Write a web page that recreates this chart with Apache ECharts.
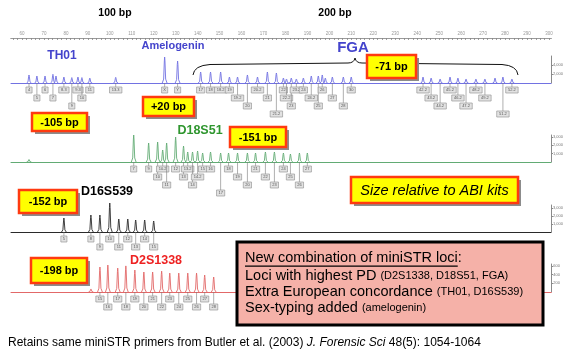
<!DOCTYPE html>
<html><head><meta charset="utf-8">
<script src="https://cdn.jsdelivr.net/npm/echarts@6/dist/echarts.min.js"></script>
<style>html,body{margin:0;padding:0;background:#fff}#c{width:566px;height:357px}</style>
</head><body><div id="c"></div>
<script>
// ---------- DATA ----------
const rulerLabels = [60,70,80,90,100,110,120,130,140,150,160,170,180,190,200,210,220,230,240,250,260,270,280,290,300];

// Blue dye: TH01, Amelogenin, FGA
const blueBp = [63.2,66.8,70.5,74.1,75.5,79.1,82.7,85.5,87.3,90.9,102.7,
  125.0,130.9,
  141.4,145.9,150.5,154.5,158.2,162.7,167.3,171.8,175.9,179.1,180.5,182.7,185.0,188.2,191.8,195.0,196.8,198.2,201.4,206.4,210.0,
  242.7,246.4,250.5,255.0,258.6,262.3,266.8,270.9,275.5,279.1,283.2];
const blueRfu = [1780,1550,1550,1930,1550,1330,1200,1330,1200,1100,1250,
  5770,4880,
  2440,2440,2440,1330,1330,1780,1330,2440,2220,1110,890,1110,890,1110,1550,1550,1780,1110,1330,1330,1330,
  1330,1110,890,1330,1110,890,890,890,1110,1330,890];
const blueAllele = ["4","5","6","7","8","8.3","9","9.3","10","11","13.3",
  "X","Y",
  "17","18","18.2","19","19.2","20","20.2","21","21.2","22","22.2","23","23.2","24","24.2","25","26","26.2","27","28","30",
  "42.2","43.2","44.2","45.2","46.2","47.2","48.2","49.2","50.2","51.2","52.2"];
const blueRow = [0,1,0,1,-1,0,2,0,1,0,0,
  0,0,
  0,0,0,0,1,2,0,1,3,0,1,2,0,0,1,2,0,-1,1,2,0,
  0,1,2,0,1,2,0,1,-1,3,0];

// Green dye: D18S51
const greenBp = [63.2,110.9,117.7,121.8,124.1,125.9,130.0,133.6,135.5,137.7,140.0,142.3,145.9,150.5,154.1,158.2,162.7,166.4,170.9,175.0,179.1,182.3,186.4,190.0];
const greenRfu = [300,3240,2280,2400,1440,2280,3000,1920,1200,1200,1320,1080,1200,1080,1080,1080,1080,1080,1200,1200,1080,960,1080,1080];
const greenAllele = ["","7","9","10","10.2","11","12","13","13.2","14","14.2","15","16","17","18","19","20","21","22","23","24","25","26","27"];
const greenRow = [-1,0,0,1,0,2,0,1,0,2,1,0,0,3,0,1,2,0,1,2,0,1,2,0];

// Black (yellow dye): D16S539
const blackBp = [79.1,91.4,95.5,100.0,104.1,108.2,111.8,115.9,120.0];
const blackRfu = [1750,2125,2125,3625,1625,1625,1500,1500,1375];
const blackAllele = ["5","8","9","10","11","12","13","14","15"];
const blackRow = [0,0,1,0,1,0,1,0,1];

// Red dye: D2S1338
const redBp = [91.4,95.5,99.1,103.6,107.3,111.4,115.5,119.5,123.6,127.3,131.4,135.5,139.5,143.2,147.3];
const redRfu = [70,575,620,550,600,505,460,460,480,435,435,435,435,390,345];
const redAllele = ["","15","16","17","18","19","20","21","22","23","24","25","26","27","28"];
const redRow = [-1,0,1,0,1,0,1,0,1,0,1,0,1,0,1];

// ---------- CHART ----------
const FONT = '"Liberation Sans", Arial, sans-serif';
const X_MIN = 55, X_MAX = 301;
const LEFT = 11, RIGHT = 14.8;

const panels = [
  {bp: blueBp,  rfu: blueRfu,  allele: blueAllele,  row: blueRow,  color: '#7272e2', top: 56,  height: 27, max: 6000, interval: 2000},
  {bp: greenBp, rfu: greenRfu, allele: greenAllele, row: greenRow, color: '#62ab74', top: 135, height: 27, max: 3240, interval: 1000},
  {bp: blackBp, rfu: blackRfu, allele: blackAllele, row: blackRow, color: '#2a2a2a', top: 205, height: 27, max: 3375, interval: 1000},
  {bp: redBp,   rfu: redRfu,   allele: redAllele,   row: redRow,   color: '#e26868', top: 264, height: 28, max: 644,  interval: 200}
];

const rulerTicks = [];
for (let v = 56; v <= 300; v += 2) rulerTicks.push(v);

const grid = [{left: LEFT, right: RIGHT, top: 23, height: 15}];
const xAxis = [
  {gridIndex: 0, type: 'value', min: X_MIN, max: X_MAX, position: 'top',
   axisLine: {show: true, lineStyle: {color: '#9a9a9a', width: 1}},
   axisTick: {show: true, inside: true, length: 2, customValues: rulerTicks, lineStyle: {color: '#888', width: 0.8}},
   axisLabel: {show: true, inside: true, customValues: rulerLabels, fontSize: 4.5, color: '#999', margin: 8, fontFamily: FONT},
   splitLine: {show: false}},
  {gridIndex: 0, type: 'value', min: X_MIN, max: X_MAX, position: 'bottom',
   axisLine: {show: true, lineStyle: {color: '#9a9a9a', width: 1}},
   axisTick: {show: false}, axisLabel: {show: false}, splitLine: {show: false}}
];
const yAxis = [{gridIndex: 0, type: 'value', show: false}];
const series = [];

function makeRender(p) {
  return function (params, api) {
    const i = api.value(2);
    const b = api.coord([api.value(0), 0]);
    const t = api.coord([api.value(0), api.value(1)]);
    const x = b[0], y = b[1];
    const h = y - t[1];
    const ch = [{
      type: 'polyline',
      shape: {points: [[x - 2.4, y], [x - 1.0, y - h * 0.15], [x - 0.3, y - h * 0.85], [x, t[1]], [x + 0.3, y - h * 0.85], [x + 1.0, y - h * 0.15], [x + 2.4, y]]},
      style: {stroke: p.color, fill: null, lineWidth: 0.9}
    }];
    const r = p.row[i];
    if (r >= 0) {
      const lab = p.allele[i];
      const bw = 4 + lab.length * 2.1;
      const by = y + 4 + r * 8;
      ch.push({type: 'line', shape: {x1: x, y1: y, x2: x, y2: by}, style: {stroke: '#7a7a7a', lineWidth: 0.6}});
      ch.push({type: 'rect', shape: {x: x - bw / 2, y: by, width: bw, height: 6}, style: {fill: '#e2e2e2', stroke: '#999', lineWidth: 0.7}});
      ch.push({type: 'text', style: {text: lab, x: x, y: by + 3.2, fontSize: 4, fontFamily: FONT, fill: '#555', align: 'center', verticalAlign: 'middle'}});
    }
    return {type: 'group', children: ch};
  };
}

panels.forEach((p, k) => {
  const gi = k + 1;
  grid.push({left: LEFT, right: RIGHT, top: p.top, height: p.height});
  xAxis.push({gridIndex: gi, type: 'value', min: X_MIN, max: X_MAX,
    axisLine: {show: true, onZero: false, lineStyle: {color: p.color, width: 1}},
    axisTick: {show: false}, axisLabel: {show: false}, splitLine: {show: false}});
  yAxis.push({gridIndex: gi, type: 'value', min: 0, max: p.max, interval: p.interval, position: 'right',
    axisLine: {show: true, lineStyle: {color: '#8a8a8a', width: 1}},
    axisTick: {show: true, length: 2, lineStyle: {color: '#8a8a8a'}},
    axisLabel: {fontSize: 4, color: '#777', margin: 2, showMinLabel: false, showMaxLabel: false, fontFamily: FONT},
    splitLine: {show: false}});
  series.push({type: 'custom', xAxisIndex: gi + 1, yAxisIndex: gi, clip: false,
    data: p.bp.map((b, i) => [b, p.rfu[i], i]),
    renderItem: makeRender(p), silent: true, animation: false});
});

// ---------- ANNOTATIONS ----------
const graphic = [];
function txt(x, y, text, size, color, opts) {
  graphic.push({type: 'text', z: 100, x: x, y: y,
    style: Object.assign({text: text, fontSize: size, fontFamily: FONT, fill: color, align: 'center', verticalAlign: 'middle'}, opts || {})});
}
function callout(x1, y1, x2, y2, text, size, style) {
  graphic.push({type: 'rect', z: 100, shape: {x: x1 + 3, y: y1 + 3, width: x2 - x1, height: y2 - y1}, style: {fill: '#8c8c8c'}});
  graphic.push({type: 'rect', z: 101, shape: {x: x1, y: y1, width: x2 - x1, height: y2 - y1}, style: {fill: '#ffff00', stroke: '#ff3a10', lineWidth: 2.5}});
  graphic.push({type: 'text', z: 102, x: (x1 + x2) / 2, y: (y1 + y2) / 2 + 0.5,
    style: {text: text, fontSize: size, fontWeight: style === 'italic' ? 'normal' : 'bold', fontStyle: style === 'italic' ? 'italic' : 'normal',
      fontFamily: FONT, fill: '#000', align: 'center', verticalAlign: 'middle'}});
}

txt(115, 13.5, '100 bp', 10.5, '#000', {fontWeight: 'bold'});
txt(335, 13.5, '200 bp', 10.5, '#000', {fontWeight: 'bold'});
txt(62, 56, 'TH01', 12, '#4444cc', {fontWeight: 'bold'});
txt(173, 46, 'Amelogenin', 11, '#4444cc', {fontWeight: 'bold'});
txt(353, 47.5, 'FGA', 15, '#4444cc', {fontWeight: 'bold'});
txt(200, 131, 'D18S51', 12.5, '#2f962f', {fontWeight: 'bold'});
txt(107, 192, 'D16S539', 12.5, '#000', {fontWeight: 'bold'});
txt(156, 261, 'D2S1338', 12.5, '#ee2222', {fontWeight: 'bold'});

// brace over FGA
const bs = {stroke: '#111', lineWidth: 1, fill: null};
graphic.push({type: 'bezierCurve', z: 90, shape: {x1: 193, y1: 75, x2: 210, y2: 64.5, cpx1: 194, cpy1: 65.5}, style: bs});
graphic.push({type: 'line', z: 90, shape: {x1: 210, y1: 64.5, x2: 348, y2: 63}, style: bs});
graphic.push({type: 'bezierCurve', z: 90, shape: {x1: 348, y1: 63, x2: 355, y2: 58, cpx1: 354, cpy1: 63}, style: bs});
graphic.push({type: 'bezierCurve', z: 90, shape: {x1: 355, y1: 58, x2: 362, y2: 63, cpx1: 356, cpy1: 63}, style: bs});
graphic.push({type: 'line', z: 90, shape: {x1: 362, y1: 63, x2: 502, y2: 64.5}, style: bs});
graphic.push({type: 'bezierCurve', z: 90, shape: {x1: 502, y1: 64.5, x2: 518, y2: 75, cpx1: 517, cpy1: 65.5}, style: bs});

callout(367, 55, 416, 78, '-71 bp', 11);
callout(143, 97, 194, 116, '+20 bp', 11);
callout(32, 113, 87, 131, '-105 bp', 11);
callout(230, 127, 286, 147, '-151 bp', 11);
callout(19, 190, 77, 213, '-152 bp', 11);
callout(31, 258, 87, 283, '-198 bp', 11);
callout(351, 177, 518, 203, 'Size relative to ABI kits', 14.5, 'italic');

// info box
graphic.push({type: 'rect', z: 110, shape: {x: 237, y: 242, width: 306, height: 83}, style: {fill: '#f5b1a8', stroke: '#000', lineWidth: 3}});
const lt = {align: 'left', verticalAlign: 'middle'};
const MAIN = 14.5, SMALL = 11;
graphic.push({type: 'text', z: 111, x: 245, y: 258, style: Object.assign({text: 'New combination of miniSTR loci:', fontSize: MAIN, fontFamily: FONT, fill: '#000'}, lt)});
let ulw = 218;
try {
  const cv = document.createElement('canvas').getContext('2d');
  cv.font = MAIN + 'px "Liberation Sans", Arial, sans-serif';
  const w = cv.measureText('New combination of miniSTR loci').width;
  if (w > 50) ulw = w;
} catch (e) {}
graphic.push({type: 'rect', z: 112, shape: {x: 245, y: 265.5, width: ulw, height: 1.2}, style: {fill: '#000'}});
const rich = {a: {fontSize: MAIN, fontFamily: FONT, fill: '#000'}, b: {fontSize: SMALL, fontFamily: FONT, fill: '#000'}};
graphic.push({type: 'text', z: 111, x: 245, y: 276, style: Object.assign({text: '{a|Loci with highest PD }{b|(D2S1338, D18S51, FGA)}', rich: rich}, lt)});
graphic.push({type: 'text', z: 111, x: 245, y: 292, style: Object.assign({text: '{a|Extra European concordance }{b|(TH01, D16S539)}', rich: rich}, lt)});
graphic.push({type: 'text', z: 111, x: 245, y: 308, style: Object.assign({text: '{a|Sex-typing added }{b|(amelogenin)}', rich: rich}, lt)});

// footer
const FS = 12;
const frich = {n: {fontSize: FS, fontFamily: FONT, fill: '#000'}, i: {fontSize: FS, fontFamily: FONT, fill: '#000', fontStyle: 'italic'}};
graphic.push({type: 'text', z: 111, x: 8, y: 343, style: Object.assign({text: '{n|Retains same miniSTR primers from Butler et al. (2003) }{i|J. Forensic Sci}{n| 48(5): 1054-1064}', rich: frich}, lt)});

const chart = echarts.init(document.getElementById('c'), null, {renderer: 'canvas', width: 566, height: 357});
chart.setOption({
  animation: false,
  backgroundColor: '#fff',
  grid: grid, xAxis: xAxis, yAxis: yAxis, series: series,
  graphic: graphic
});
</script>
</body></html>
